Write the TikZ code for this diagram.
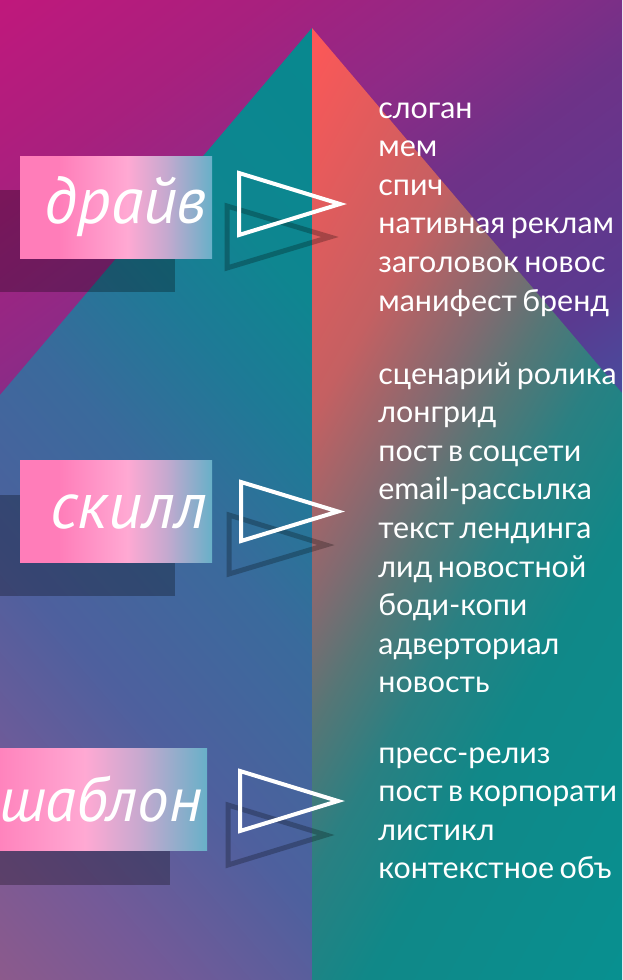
\documentclass[tikz,border=0pt]{standalone}
\usepackage{fontspec}
\setmainfont{Lato}
\newfontfamily\levelfont{PT Sans}

% background and pyramid colours
\definecolor{bgA}{HTML}{C0187C}
\definecolor{bgB}{HTML}{A8207E}
\definecolor{bgC}{HTML}{8E2A86}
\definecolor{bgD}{HTML}{6E3288}
\definecolor{bgE}{HTML}{5A3A90}
\definecolor{bgF}{HTML}{4A4A9C}
\definecolor{lfA}{HTML}{08888F}
\definecolor{lfB}{HTML}{0E8690}
\definecolor{lfC}{HTML}{1E7A96}
\definecolor{lfD}{HTML}{3A6A9C}
\definecolor{lfE}{HTML}{4E609E}
\definecolor{lfF}{HTML}{745A98}
\definecolor{lfG}{HTML}{8C5A8C}
\definecolor{rtA}{HTML}{FF5757}
\definecolor{rtB}{HTML}{C46062}
\definecolor{rtC}{HTML}{846A70}
\definecolor{rtD}{HTML}{567676}
\definecolor{rtE}{HTML}{2A8082}
\definecolor{rtF}{HTML}{108888}
\definecolor{rtG}{HTML}{089090}
\definecolor{bxA}{HTML}{FF7DB9}
\definecolor{bxB}{HTML}{FFA9D3}
\definecolor{bxC}{HTML}{C6A9CF}
\definecolor{bxD}{HTML}{68B0C8}

\pgfdeclareverticalshading{bgshade}{100bp}{color(0bp)=(bgF); color(45.8bp)=(bgF); color(49.2bp)=(bgE); color(56.8bp)=(bgD); color(61.9bp)=(bgC); color(67.8bp)=(bgB); color(74.6bp)=(bgA); color(100bp)=(bgA)}
\pgfdeclareverticalshading{leftshade}{100bp}{color(0bp)=(lfG); color(25.7bp)=(lfG); color(32.8bp)=(lfF); color(41.4bp)=(lfE); color(50.7bp)=(lfD); color(58.1bp)=(lfC); color(64bp)=(lfB); color(74.3bp)=(lfA); color(100bp)=(lfA)}
\pgfdeclareverticalshading{rightshade}{100bp}{color(0bp)=(rtG); color(27.4bp)=(rtG); color(41bp)=(rtF); color(47bp)=(rtE); color(51.5bp)=(rtD); color(55.2bp)=(rtC); color(60.9bp)=(rtB); color(72.8bp)=(rtA); color(100bp)=(rtA)}
\pgfdeclarehorizontalshading{boxshade}{100bp}{color(0bp)=(bxA); color(35bp)=(bxA); color(53bp)=(bxB); color(63bp)=(bxC); color(75bp)=(bxD); color(100bp)=(bxD)}

\tikzset{
  labelbox/.style={shade, shading=boxshade, text=white, font=\fontsize{33}{38}\levelfont\itshape, minimum height=51pt, inner xsep=2.5pt, align=right},
  listtext/.style={text=white, font=\fontsize{15.2}{19.3}\selectfont, execute at begin node={\spaceskip=0.18em\relax}, text width=220pt, align=left, anchor=base west, inner sep=0pt},
  boxshadow/.style={fill=black, opacity=0.28},
  trishadow/.style={draw=black, opacity=0.25, line width=2.5pt},
  arrowtri/.style={draw=white, line width=2pt, line join=miter}
}

\begin{document}
\begin{tikzpicture}[x=0.5pt, y=-0.5pt]
\useasboundingbox (0,0) rectangle (622,980);
% background
\begin{scope}
  \clip (0,0) rectangle (622,980);
  \begin{scope}[transform canvas={rotate around={36.9:(312,491)}}]
    \shade[shading=bgshade] (-243,-99) rectangle (867,1081);
  \end{scope}
\end{scope}
% pyramid, left half
\begin{scope}
  \clip (312,28) -- (0,395) -- (0,980) -- (312,980) -- cycle;
  \begin{scope}[transform canvas={rotate around={-49:(224,581)}}]
    \shade[shading=leftshade] (-151,138.5) rectangle (599,1023.5);
  \end{scope}
\end{scope}
% pyramid, right half
\begin{scope}
  \clip (312,28) -- (622,393) -- (622,980) -- (312,980) -- cycle;
  \begin{scope}[transform canvas={rotate around={60.6:(430,569)}}]
    \shade[shading=rightshade] (0,164) rectangle (860,974);
  \end{scope}
\end{scope}

% shadows
\fill[boxshadow] (-17,190) rectangle (175,292);
\fill[boxshadow] (-17,495) rectangle (175,596);
\fill[boxshadow] (-107,782) rectangle (170,885);
\draw[trishadow] (227,206) -- (227,268) -- (330,237) -- cycle;
\draw[trishadow] (229,515) -- (229,574) -- (326,545) -- cycle;
\draw[trishadow] (228,805) -- (228,865) -- (326,835) -- cycle;

% levels
\node[labelbox, minimum width=96pt, text width=91pt] (drive) at (116,207) {драйв};
\node[labelbox, minimum width=96pt, text width=91pt] (skill) at (116,511.5) {скилл};
\node[labelbox, minimum width=138.5pt, text width=133.5pt, font=\fontsize{31.5}{38}\levelfont\itshape] (templ) at (68.5,799.5) {шаблон};

\draw[arrowtri] (239,173) -- (239,235) -- (340,204) -- cycle;
\draw[arrowtri] (241,482) -- (241,541) -- (338,511.5) -- cycle;
\draw[arrowtri] (240,771) -- (240,831) -- (338,801) -- cycle;

% text types
\node[listtext] (drivelist) at (378,118) {слоган\\мем\\спич\\нативная реклам\\заголовок новос\\манифест бренд};
\node[listtext] (skilllist) at (378,384) {сценарий ролика\\лонгрид\\пост в соцсети\\email-рассылка\\текст лендинга\\лид новостной\\боди-копи\\адверториал\\новость};
\node[listtext] (templlist) at (378,763) {пресс-релиз\\пост в корпорати\\листикл\\контекстное объ};
\end{tikzpicture}
\end{document}
